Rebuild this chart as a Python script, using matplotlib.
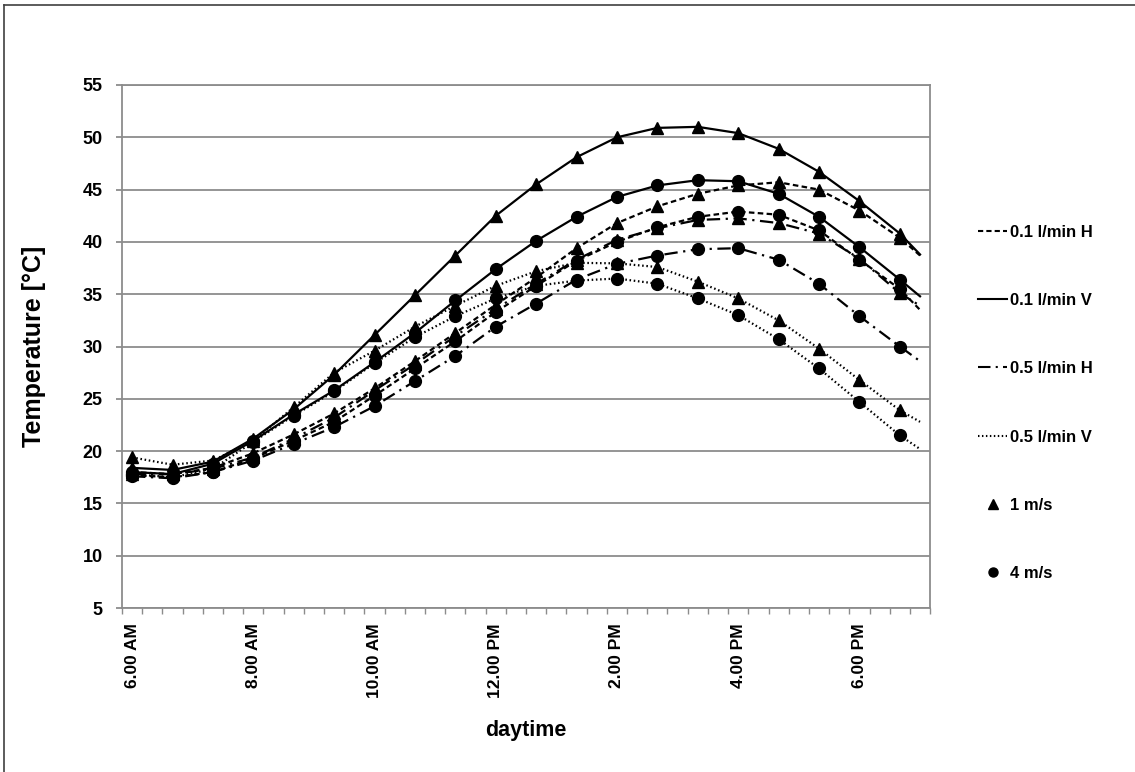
import numpy as np
import matplotlib.pyplot as plt
from matplotlib.lines import Line2D

plt.rcParams['font.family'] = ['Liberation Sans', 'DejaVu Sans']
plt.rcParams['font.weight'] = 'bold'

# measurement times (every 40 min), last entry = end of the curves
times = ["6:00", "6:40", "7:20", "8:00", "8:40", "9:20", "10:00", "10:40", "11:20", "12:00",
         "12:40", "13:20", "14:00", "14:40", "15:20", "16:00", "16:40", "17:20", "18:00", "18:40", "19:00"]

# temperatures [°C], flow rate / orientation and wind speed
h01_1 = [18.0, 17.8, 18.4, 19.8, 21.6, 23.6, 26.0, 28.6, 31.3, 34.0, 36.6, 39.4, 41.8, 43.4, 44.6,
         45.4, 45.7, 45.0, 43.0, 40.4, 38.7]
h01_4 = [17.7, 17.5, 18.0, 19.3, 21.0, 22.8, 25.3, 27.9, 30.5, 33.3, 35.8, 38.2, 40.0, 41.4, 42.4,
         42.9, 42.6, 41.1, 38.3, 35.5, 33.5]
v01_1 = [18.4, 18.2, 19.0, 21.2, 24.0, 27.3, 31.1, 34.9, 38.7, 42.5, 45.5, 48.1, 50.0, 50.9, 51.0,
         50.4, 48.9, 46.7, 43.9, 40.8, 38.8]
v01_4 = [18.0, 17.8, 18.8, 21.0, 23.5, 25.8, 28.5, 31.3, 34.4, 37.4, 40.1, 42.4, 44.3, 45.4, 45.9,
         45.8, 44.6, 42.4, 39.5, 36.4, 34.8]
h05_1 = [17.8, 17.8, 18.3, 19.4, 21.2, 23.2, 25.8, 28.3, 31.0, 33.6, 36.0, 38.3, 40.2, 41.3, 42.1,
         42.25, 41.8, 40.8, 38.4, 35.1, 33.9]
h05_4 = [17.6, 17.4, 18.0, 19.1, 20.7, 22.3, 24.3, 26.7, 29.1, 31.9, 34.1, 36.4, 37.9, 38.7, 39.3,
         39.4, 38.3, 36.0, 32.9, 30.0, 28.6]
v05_1 = [19.4, 18.7, 19.1, 21.0, 24.2, 27.5, 29.6, 31.9, 33.9, 35.8, 37.2, 38.0, 37.95, 37.6, 36.2,
         34.6, 32.5, 29.8, 26.8, 23.9, 22.8]
v05_4 = [17.8, 17.5, 18.3, 20.9, 23.4, 25.7, 28.4, 30.9, 32.9, 34.6, 35.8, 36.3, 36.5, 36.0, 34.6,
         33.0, 30.7, 27.9, 24.7, 21.5, 20.2]

legend_labels = ["0.1 l/min H", "0.1 l/min V", "0.5 l/min H", "0.5 l/min V", "1 m/s", "4 m/s"]
xtick_hours = [6, 8, 10, 12, 14, 16, 18]
xtick_labels = ["6.00 AM", "8.00 AM", "10.00 AM", "12.00 PM", "2.00 PM", "4.00 PM", "6.00 PM"]

x = np.array([int(t.split(":")[0]) + int(t.split(":")[1]) / 60 for t in times])

styles = {
    "H01": (0, (2.5, 1.5)),
    "V01": "-",
    "H05": (0, (6, 2.5, 1, 2.5)),
    "V05": (0, (0.7, 1.2)),
}

series = [
    (h01_1, "H01", "^"), (h01_4, "H01", "o"),
    (v01_1, "V01", "^"), (v01_4, "V01", "o"),
    (h05_1, "H05", "^"), (h05_4, "H05", "o"),
    (v05_1, "V05", "^"), (v05_4, "V05", "o"),
]

fig = plt.figure(figsize=(11.35, 7.72), dpi=100)
ax = fig.add_axes([0.1075, 0.2124, 0.712, 0.6775])

for vals, key, mk in series:
    ax.plot(x, vals, color="black", lw=1.6, linestyle=styles[key], marker=mk,
            markersize=8.5, markevery=list(range(len(x) - 1)), zorder=3)

gray = "#8c8c8c"
ax.set_ylim(5, 55)
ax.set_yticks(np.arange(5, 56, 5))
ax.set_xlim(6 - 1 / 6, 19 + 1 / 6)
ax.set_xticks(xtick_hours, labels=xtick_labels)
ax.set_xticks(np.arange(6 - 1 / 6, 19 + 1 / 6 + 0.01, 1 / 3), minor=True)
ax.grid(axis="y", color=gray, lw=1.3)
ax.set_axisbelow(True)
for s in ax.spines.values():
    s.set_color(gray)
    s.set_linewidth(1.3)

ax.tick_params(axis="x", which="major", length=0, pad=11, labelsize=12.5, rotation=90)
ax.tick_params(axis="x", which="minor", length=4, width=1, color=gray, direction="out")
ax.tick_params(axis="y", length=4, width=1.3, color=gray, pad=10, labelsize=13)

ax.set_ylabel("Temperature [°C]", fontsize=18, fontweight="bold", labelpad=26)
ax.set_xlabel("daytime", fontsize=15.5, fontweight="bold", labelpad=16)

handles = [
    Line2D([], [], color="black", lw=1.5, linestyle=styles["H01"]),
    Line2D([], [], color="black", lw=1.5, linestyle=styles["V01"]),
    Line2D([], [], color="black", lw=1.5, linestyle=styles["H05"]),
    Line2D([], [], color="black", lw=1.5, linestyle=styles["V05"]),
    Line2D([], [], color="black", lw=0, marker="^", markersize=6.5),
    Line2D([], [], color="black", lw=0, marker="o", markersize=6.5),
]
fig.legend(handles, legend_labels, loc="upper left", bbox_to_anchor=(978 / 1135, 0.709),
           frameon=False, fontsize=12, handlelength=1.75, handletextpad=0.2,
           labelspacing=3.2, borderpad=0, borderaxespad=0)

# outer frame (top and left edges visible)
fig.add_artist(Line2D([4 / 1135, 1], [1 - 5 / 772] * 2, color="#404040", lw=1.2))
fig.add_artist(Line2D([4 / 1135] * 2, [0, 1 - 5 / 772], color="#404040", lw=1.2))

fig.savefig("out.png", dpi=100)
